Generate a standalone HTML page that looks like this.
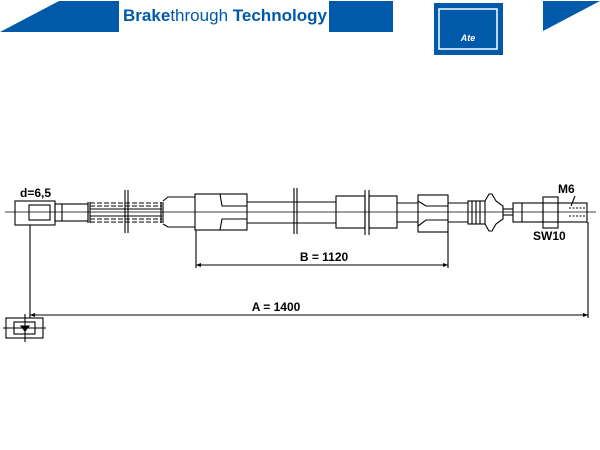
<!DOCTYPE html>
<html><head><style>html,body{margin:0;padding:0;background:#fff;width:600px;height:450px;overflow:hidden}</style></head>
<body>
<svg width="600" height="450" viewBox="0 0 600 450" xmlns="http://www.w3.org/2000/svg" font-family="Liberation Sans, sans-serif">
<g fill="#0059a9">
<polygon points="0,32 59,1 119,1 119,32"/>
<rect x="329" y="1" width="64" height="31"/>
<rect x="434" y="3" width="69" height="52"/>
<polygon points="543,1 600,1 600,1 543,31"/>
</g>
<rect x="439" y="9" width="58" height="40" fill="none" stroke="#fff" stroke-width="1.5"/>
<text x="468" y="41" font-size="9" font-style="italic" font-weight="bold" fill="#fff" text-anchor="middle">Ate</text>
<text x="123" y="21" font-size="17" fill="#0059a9" textLength="204" lengthAdjust="spacingAndGlyphs"><tspan font-weight="bold">Brake</tspan>through <tspan font-weight="bold">Technology</tspan></text>

<g stroke="#000" fill="none" stroke-width="1.1">
<line x1="5" y1="212" x2="596" y2="212" stroke-width="0.8"/>
<rect x="15" y="201" width="40" height="24"/>
<rect x="29" y="205" width="21" height="15"/>
<rect x="55" y="204" width="33" height="17"/>
<line x1="62" y1="204" x2="62" y2="221"/>
<line x1="88" y1="202" x2="88" y2="223"/>
<line x1="90" y1="202" x2="90" y2="223"/>
<g stroke-dasharray="5,2">
<line x1="90" y1="203" x2="162" y2="203"/><line x1="90" y1="206" x2="162" y2="206"/>
<line x1="90" y1="219" x2="162" y2="219"/><line x1="90" y1="222" x2="162" y2="222"/>
</g>
<line x1="90" y1="209" x2="162" y2="209"/><line x1="90" y1="216" x2="162" y2="216"/>
<line x1="125" y1="190" x2="125" y2="233"/><line x1="128" y1="190" x2="128" y2="233"/>
<line x1="161" y1="202" x2="161" y2="223"/><line x1="163" y1="202" x2="163" y2="223"/>
<polyline points="163,201 168,197 195,197"/><polyline points="163,224 168,227 195,227"/>
<rect x="195" y="194" width="52" height="36"/>
<polyline points="220,194 222,206 247,206"/><polyline points="220,230 222,219 247,219"/>
<line x1="247" y1="202" x2="336" y2="202"/><line x1="247" y1="223" x2="336" y2="223"/>
<line x1="294" y1="188" x2="294" y2="234"/><line x1="297" y1="188" x2="297" y2="234"/>
<rect x="336" y="196" width="29" height="32"/>
<line x1="365" y1="190" x2="365" y2="235"/><line x1="369" y1="190" x2="369" y2="235"/>
<rect x="369" y="196" width="28" height="32"/>
<line x1="397" y1="203" x2="418" y2="203"/><line x1="397" y1="222" x2="418" y2="222"/>
<rect x="418" y="195" width="30" height="37"/>
<polyline points="418,201 426,206 448,206"/><polyline points="418,226 426,220 448,220"/>
<line x1="448" y1="203" x2="468" y2="203"/><line x1="448" y1="222" x2="468" y2="222"/>
<rect x="468" y="201" width="17" height="23"/>
<line x1="472" y1="201" x2="472" y2="224"/><line x1="476" y1="201" x2="476" y2="224"/><line x1="480" y1="201" x2="480" y2="224"/>
<path d="M485,201 L489,194 L492,194 L496,201 L503,206 L503,219 L496,224 L492,231 L489,231 L485,224"/>
<line x1="503" y1="209" x2="513" y2="209"/><line x1="503" y1="215" x2="513" y2="215"/>
<rect x="513" y="203" width="30" height="19"/>
<line x1="522" y1="203" x2="522" y2="222"/>
<rect x="543" y="197" width="15" height="31"/>
<line x1="543" y1="203" x2="558" y2="203"/><line x1="543" y1="222" x2="558" y2="222"/>
<rect x="558" y="203" width="29" height="19"/>
<g stroke-dasharray="2,1.5"><line x1="569" y1="208" x2="586" y2="208"/><line x1="569" y1="216" x2="586" y2="216"/></g>
<line x1="575" y1="196" x2="571" y2="206"/>
<line x1="196" y1="230" x2="196" y2="268"/><line x1="448" y1="232" x2="448" y2="268"/>
<line x1="196" y1="265" x2="448" y2="265"/>
<line x1="30" y1="225" x2="30" y2="318"/><line x1="588" y1="222" x2="588" y2="318"/>
<line x1="30" y1="315" x2="588" y2="315"/>
<rect x="6" y="318" width="37" height="20"/>
<rect x="14" y="322" width="21" height="12"/>
<line x1="3" y1="328" x2="46" y2="328"/>
<line x1="25" y1="314" x2="25" y2="342"/>
<path d="M21,326 L29,326 L25,331 Z" fill="#000"/>
</g>
<g fill="#000">
<path d="M196,265 l5,-2 v4z M448,265 l-5,-2 v4z M30,315 l5,-2 v4z M588,315 l-5,-2 v4z"/>
</g>
<g font-weight="bold" font-size="12" fill="#000">
<text x="20" y="197">d=6,5</text>
<text x="558" y="193">M6</text>
<text x="533" y="240">SW10</text>
<text x="324" y="261" text-anchor="middle">B = 1120</text>
<text x="276" y="311" text-anchor="middle">A = 1400</text>
</g>
</svg>
</body></html>
